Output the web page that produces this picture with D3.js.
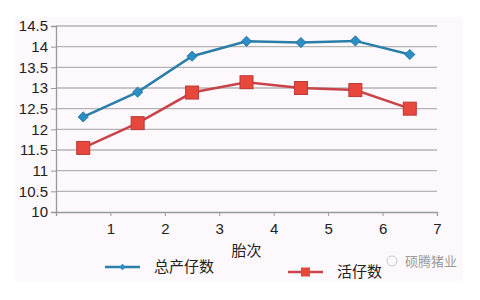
<!DOCTYPE html>
<html>
<head>
<meta charset="utf-8">
<script src="https://cdn.jsdelivr.net/npm/d3@7"></script>
<style>
  body { margin: 0; background: #fff; }
  svg { display: block; font-family: "Liberation Sans", Arial, sans-serif; }
</style>
</head>
<body>
<svg id="chart" width="480" height="300"></svg>
<script>
// 数据
const parity = [0.5, 1.5, 2.5, 3.5, 4.5, 5.5, 6.5];
const totalBorn = [12.3, 12.9, 13.77, 14.13, 14.1, 14.14, 13.81];
const bornAlive = [11.55, 12.15, 12.89, 13.14, 13.0, 12.95, 12.5];
const yTicks = [10, 10.5, 11, 11.5, 12, 12.5, 13, 13.5, 14, 14.5];
const xTicks = [1, 2, 3, 4, 5, 6, 7];
const seriesNames = ["总产仔数", "活仔数"];

const svg = d3.select('#chart');

// 浅粉背景
svg.append('rect')
    .attr('x', 15).attr('y', 17)
    .attr('width', 448).attr('height', 264)
    .attr('fill', '#fdf8fb');

const plotL = 56, plotR = 437, plotT = 26, plotB = 212;
const x = d3.scaleLinear().domain([0, 7]).range([plotL, plotR]);
const y = d3.scaleLinear().domain([10, 14.5]).range([plotB, plotT]);

// 网格线
svg.append('g')
    .selectAll('line')
    .data(yTicks.slice(1))
    .join('line')
    .attr('x1', plotL).attr('x2', plotR)
    .attr('y1', d => y(d)).attr('y2', d => y(d))
    .attr('stroke', '#b4b4b4')
    .attr('stroke-width', 1.3);

// y 轴
const yAxis = svg.append('g')
    .attr('transform', `translate(${plotL},0)`)
    .call(d3.axisLeft(y).tickValues(yTicks).tickSize(5).tickPadding(3).tickFormat(d3.format('')));
yAxis.select('.domain').attr('stroke', '#999').attr('stroke-width', 1.3);
yAxis.selectAll('.tick line').attr('stroke', '#999');
yAxis.selectAll('text').attr('font-size', 15).attr('fill', '#222');

// x 轴
const xAxis = svg.append('g')
    .attr('transform', `translate(0,${plotB})`)
    .call(d3.axisBottom(x).tickValues([0].concat(xTicks)).tickSize(4).tickPadding(7)
        .tickFormat(d => d === 0 ? '' : d));
xAxis.select('.domain').attr('stroke', '#999').attr('stroke-width', 1.3);
xAxis.selectAll('.tick line').attr('stroke', '#999');
xAxis.selectAll('text').attr('font-size', 15).attr('fill', '#222');

svg.append('text')
    .attr('x', (plotL + plotR) / 2).attr('y', 256)
    .attr('text-anchor', 'middle')
    .attr('font-family', '"Noto Sans CJK SC", sans-serif')
    .attr('font-size', 15).attr('fill', '#222')
    .text('胎次');

const line = d3.line().x(d => x(d[0])).y(d => y(d[1]));

// 总产仔数
svg.append('path')
    .datum(d3.zip(parity, totalBorn))
    .attr('d', line)
    .attr('fill', 'none')
    .attr('stroke', '#2a7ea8')
    .attr('stroke-width', 2.5);
svg.append('g')
    .selectAll('path')
    .data(d3.zip(parity, totalBorn))
    .join('path')
    .attr('transform', d => `translate(${x(d[0])},${y(d[1])}) rotate(45)`)
    .attr('d', d3.symbol(d3.symbolSquare, 52))
    .attr('fill', '#2b8fc6')
    .attr('stroke', '#1f6f9c')
    .attr('stroke-width', 0.8);

// 活仔数
svg.append('path')
    .datum(d3.zip(parity, bornAlive))
    .attr('d', line)
    .attr('fill', 'none')
    .attr('stroke', '#c9434b')
    .attr('stroke-width', 2.5);
svg.append('g')
    .selectAll('rect')
    .data(d3.zip(parity, bornAlive))
    .join('rect')
    .attr('x', d => x(d[0]) - 6.5)
    .attr('y', d => y(d[1]) - 6.5)
    .attr('width', 13).attr('height', 13)
    .attr('fill', '#e8473c')
    .attr('stroke', '#b83a38')
    .attr('stroke-width', 1);

// 图例
const legend = svg.append('g').attr('font-family', '"Noto Sans CJK SC", sans-serif');
legend.append('line').attr('x1', 105).attr('x2', 140).attr('y1', 267).attr('y2', 267)
    .attr('stroke', '#2a7ea8').attr('stroke-width', 2.5);
legend.append('path').attr('transform', 'translate(122.5,267) rotate(45)')
    .attr('d', d3.symbol(d3.symbolSquare, 22)).attr('fill', '#2b8fc6');
legend.append('text').attr('x', 154).attr('y', 272).attr('font-size', 15).attr('fill', '#222')
    .text(seriesNames[0]);

legend.append('line').attr('x1', 288).attr('x2', 323).attr('y1', 272).attr('y2', 272)
    .attr('stroke', '#c9434b').attr('stroke-width', 2.5);
legend.append('rect').attr('x', 301).attr('y', 267.5).attr('width', 9).attr('height', 9)
    .attr('fill', '#e8473c');
legend.append('text').attr('x', 337).attr('y', 277).attr('font-size', 15).attr('fill', '#222')
    .text(seriesNames[1]);

// 水印
svg.append('circle').attr('cx', 392).attr('cy', 261).attr('r', 5)
    .attr('fill', 'none').attr('stroke', '#bbb').attr('stroke-width', 0.8);
svg.append('text').attr('x', 405).attr('y', 266)
    .attr('font-family', '"Noto Sans CJK SC", sans-serif')
    .attr('font-size', 13).attr('fill', '#999')
    .text('硕腾猪业');
</script>
</body>
</html>
